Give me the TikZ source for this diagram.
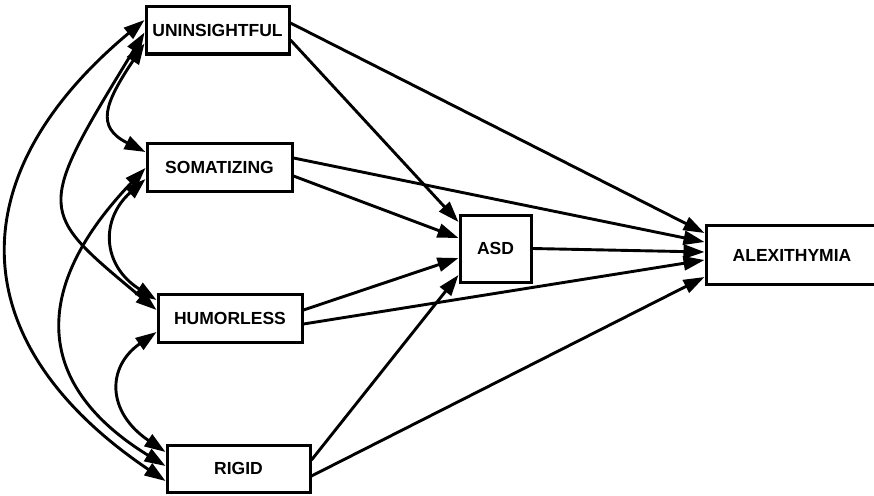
\documentclass[tikz,border=0pt]{standalone}
\usepackage{fontspec}
\setmainfont{Liberation Sans}
\usetikzlibrary{arrows.meta,calc}
\begin{document}
\begin{tikzpicture}[x=1pt,y=-1pt,
  var/.style={draw,line width=3pt,inner sep=0pt,fill=white,
    font=\bfseries\fontsize{17.5}{20}\selectfont},
  tip/.tip={Triangle[length=21pt,width=14pt]},
  effect/.style={line width=2.9pt,-tip},
  cov/.style={line width=2.9pt,tip-tip}]
\useasboundingbox (0,0) rectangle (874,495);
% variables
\node[var,minimum width=143pt,minimum height=47pt] (U) at (217.5,30.5) {UNINSIGHTFUL};
\node[var,minimum width=145pt,minimum height=48pt] (S) at (219.5,167) {SOMATIZING};
\node[var,minimum width=144pt,minimum height=48pt] (H) at (230,318) {HUMORLESS};
\node[var,minimum width=143pt,minimum height=47pt] (R) at (238.5,468.5) {RIGID};
\node[var,minimum width=71pt,minimum height=67pt] (D) at (495.5,248.5) {ASD};
\node[var,minimum width=172pt,minimum height=59pt] (A) at (792,255) {ALEXITHYMIA};
% direct effects
\draw[effect] ($(U.east)+(0,-7.5)$) -- ($(A.west)+(0,-22)$);
\draw[effect] ($(U.east)+(0,9.5)$) -- ($(D.west)+(0,-26.5)$);
\draw[effect] ($(S.east)+(0,-9)$) -- ($(A.west)+(0,-13)$);
\draw[effect] ($(S.east)+(0,9)$) -- ($(D.west)+(0,-10.5)$);
\draw[effect] ($(H.east)+(0,-8)$) -- ($(D.west)+(0,9.5)$);
\draw[effect] ($(H.east)+(0,6)$) -- ($(A.west)+(0,5)$);
\draw[effect] ($(R.east)+(0,-8.5)$) -- ($(D.west)+(0,26.5)$);
\draw[effect] ($(R.east)+(0,7.5)$) -- ($(A.west)+(0,22)$);
\draw[effect] (D.east) -- ($(A.west)+(0,-3)$);
% covariances
\draw[cov] ($(U.west)+(0,-10.5)$) .. controls +(-185,154) and +(-206,-139) .. ($(R.west)+(0,12.5)$);
\draw[cov] ($(U.west)+(0,2)$) .. controls +(-110,180) and +(-120,-100) .. ($(H.west)+(0,-8)$);
\draw[cov] ($(U.west)+(0,13)$) .. controls +(-40,60) and +(-50,-25) .. ($(S.west)+(0,-15)$);
\draw[cov] ($(S.west)+(0,1)$) .. controls +(-117,122) and +(-130,-80) .. ($(R.west)+(0,-2.5)$);
\draw[cov] ($(S.west)+(0,12)$) .. controls +(-45,40) and +(-55,-35) .. ($(H.west)+(0,-18)$);
\draw[cov] ($(H.west)+(0,14)$) .. controls +(-50,35) and +(-59,-40) .. ($(R.west)+(0,-16.5)$);
\end{tikzpicture}
\end{document}
